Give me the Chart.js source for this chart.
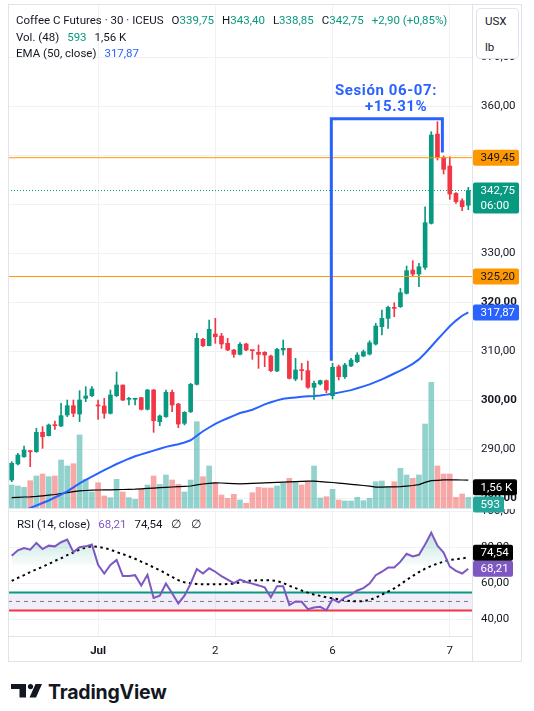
<!DOCTYPE html>
<html lang="es">
<head>
<meta charset="utf-8">
<title>Coffee C Futures · 30 · ICEUS</title>
<script src="https://cdn.jsdelivr.net/npm/chart.js@4.4.1/dist/chart.umd.min.js"></script>
<style>
  html, body { margin: 0; padding: 0; background: #fff; }
  body { width: 534px; height: 711px; position: relative; overflow: hidden;
         font-family: Roboto, 'Liberation Sans', sans-serif; color: #131722; }
  canvas { position: absolute; left: 0; }
  #mainChart { top: 0; z-index: 2; }
  #rsiChart { top: 509px; z-index: 1; }
  .txt { position: absolute; white-space: nowrap; font-size: 11.5px; line-height: 14px; z-index: 5; }
  .g { margin-left: 8px; }
  .up { color: #089981; }
  .blue { color: #2962ff; }
  .purple { color: #7e57c2; }
  .note { position: absolute; white-space: nowrap; z-index: 5; color: #2962ff;
          font-weight: bold; font-size: 15px; line-height: 16px; letter-spacing: 0.6px; }
  #frame { position: absolute; left: 8px; top: 4px; width: 514px; height: 658px;
           box-sizing: border-box; border: 1px solid #e0e3eb; z-index: 6; pointer-events: none; }
  #axisFoot { position: absolute; left: 472px; top: 636px; width: 1px; height: 25px; background: #e0e3eb; z-index: 6; }
  #unit { position: absolute; left: 476px; top: 8px; width: 43px; height: 51px; box-sizing: border-box;
          border: 1px solid #e0e3eb; border-radius: 4px; background: #fff; z-index: 6; font-size: 11.5px; }
  #unit span { position: absolute; left: 8px; }
  #logo { position: absolute; left: 11px; top: 684px; }
  #logoText { position: absolute; left: 48px; top: 680px; font-family: Inter, Roboto, sans-serif;
              font-weight: 700; font-size: 19.5px; line-height: 24px; color: #131722; letter-spacing: -0.2px; }
</style>
</head>
<body>
<canvas id="mainChart" width="534" height="520"></canvas>
<canvas id="rsiChart" width="534" height="152"></canvas>

<div class="txt" style="left:16px;top:13px">Coffee C Futures · 30 · ICEUS<span class="g">O<span class="up">339,75</span></span><span class="g">H<span class="up">343,40</span></span><span class="g">L<span class="up">338,85</span></span><span class="g">C<span class="up">342,75</span></span><span class="g up">+2,90 (+0,85%)</span></div>
<div class="txt" style="left:16px;top:30px">Vol. (48)<span class="g up">593</span><span class="g">1,56 K</span></div>
<div class="txt" style="left:16px;top:46px">EMA (50, close)<span class="g blue">317,87</span></div>
<div class="txt" style="left:17px;top:517px">RSI (14, close)<span class="g purple">68,21</span><span class="g">74,54</span><span class="g">∅</span><span class="g" style="margin-left:10px">∅</span></div>

<div class="note" style="left:335px;top:82px">Sesión 06-07:</div>
<div class="note" style="left:365px;top:98px">+15.31%</div>

<div id="unit"><span style="top:5px">USX</span><span style="top:31px">lb</span></div>
<div id="frame"></div>
<div id="axisFoot"></div>

<svg id="logo" width="31" height="14" viewBox="0 0 31 14">
  <path d="M0 0 H15 V13.5 H8.5 V5 H0 Z" fill="#131722"/>
  <circle cx="19.5" cy="2.6" r="2.6" fill="#131722"/>
  <path d="M18.5 13.5 L24.5 0 H31 L25 13.5 Z" fill="#131722"/>
</svg>
<div id="logoText">TradingView</div>

<script>
// 30-minute bars, Coffee C Futures (ICEUS)
const opens = [283.67, 286.94, 288.44, 289.66, 289.46, 293.40, 292.72, 294.90, 294.69, 296.94,
  298.84, 297.14, 300.34, 300.89, 298.98, 298.78, 297.28, 300.89, 303.06, 300.14,
  300.14, 300.48, 298.10, 302.04, 295.58, 296.60, 301.57, 299.18, 295.24, 297.62,
  303.20, 312.38, 311.09, 313.47, 313.06, 311.57, 310.21, 309.32, 311.43, 310.21,
  309.73, 309.73, 308.98, 305.92, 310.21, 310.55, 304.29, 306.12, 305.99, 302.59,
  303.27, 303.95, 300.89, 306.80, 304.76, 306.94, 307.82, 308.98, 309.38, 311.42,
  314.96, 316.66, 318.90, 319.04, 321.76, 326.52, 325.71, 327.07, 336.05, 354.28,
  349.52, 347.75, 342.17, 340.68, 339.75];
const highs = [287.42, 289.12, 290.61, 289.66, 294.22, 294.56, 295.10, 295.71, 299.32, 300.00,
  300.00, 301.91, 302.72, 302.72, 300.00, 300.34, 302.04, 305.72, 303.06, 300.55,
  300.27, 300.55, 302.18, 302.18, 296.94, 302.04, 302.04, 299.32, 297.62, 303.40,
  313.61, 312.59, 316.33, 316.67, 313.61, 312.59, 310.34, 311.70, 311.57, 310.21,
  311.23, 309.87, 309.19, 310.55, 312.25, 310.55, 308.50, 307.48, 307.96, 303.88,
  304.08, 304.08, 307.48, 307.14, 307.48, 308.50, 309.66, 310.20, 312.10, 315.64,
  318.36, 319.18, 319.86, 322.78, 327.34, 328.43, 327.88, 339.45, 354.76, 356.80,
  349.79, 349.65, 342.31, 341.08, 343.40];
const lows = [283.33, 286.73, 288.30, 286.40, 289.32, 290.14, 292.65, 294.02, 294.56, 296.60,
  296.60, 295.58, 299.66, 300.68, 296.06, 296.26, 297.14, 300.68, 299.86, 298.98,
  298.98, 297.96, 297.96, 293.40, 294.76, 296.46, 297.62, 294.35, 294.90, 297.42,
  303.06, 310.89, 311.02, 311.57, 310.55, 310.07, 308.71, 309.19, 310.07, 308.30,
  306.46, 306.80, 305.78, 305.78, 309.19, 304.29, 303.95, 304.08, 302.38, 300.14,
  303.06, 301.50, 300.21, 304.08, 304.42, 306.80, 307.61, 308.84, 309.18, 311.22,
  313.26, 314.62, 317.00, 318.90, 321.63, 325.16, 323.12, 326.66, 335.91, 348.98,
  346.12, 340.95, 340.13, 338.64, 338.85];
const closes = [287.08, 288.78, 289.80, 289.46, 293.40, 292.52, 294.90, 294.76, 296.80, 298.84,
  297.28, 300.00, 300.82, 302.25, 298.78, 297.28, 301.02, 303.06, 300.00, 300.27,
  300.27, 298.10, 302.04, 295.78, 296.74, 301.57, 298.98, 295.10, 297.48, 303.20,
  312.59, 311.09, 314.42, 312.93, 311.43, 310.21, 309.32, 311.36, 310.21, 310.07,
  309.32, 309.19, 305.99, 310.34, 310.55, 304.42, 306.12, 305.99, 302.59, 303.40,
  303.95, 302.04, 306.67, 304.76, 307.14, 308.16, 309.18, 309.86, 311.69, 315.10,
  316.66, 318.90, 318.70, 321.90, 326.39, 325.71, 327.20, 336.19, 354.08, 349.52,
  347.07, 342.04, 340.47, 339.45, 342.75];
const volumes = [1288, 1232, 1159, 1529, 1792, 1904, 1753, 1792, 2688, 2352,
  2481, 4088, 1607, 896, 1417, 672, 577, 1607, 896, 577,
  487, 1047, 1288, 1792, 1327, 1848, 1568, 1327, 896, 1568,
  4833, 1753, 2352, 1417, 728, 543, 767, 448, 263, 857,
  1159, 1120, 1120, 1232, 1383, 1663, 1473, 1288, 1473, 2352,
  560, 633, 1047, 448, 392, 392, 599, 409, 543, 1473,
  1512, 1193, 1473, 2223, 1848, 1663, 1848, 4704, 7039, 2352,
  1904, 1904, 599, 784, 593];
const volumeMA = [582, 600, 616, 627, 650, 683, 717, 756, 806, 862,
  918, 958, 980, 997, 1008, 1014, 1019, 1030, 1036, 1042,
  1053, 1075, 1098, 1114, 1137, 1154, 1176, 1193, 1215, 1232,
  1299, 1344, 1378, 1411, 1400, 1383, 1366, 1355, 1366, 1383,
  1394, 1406, 1422, 1439, 1450, 1467, 1478, 1495, 1506, 1501,
  1478, 1450, 1428, 1394, 1361, 1327, 1294, 1260, 1221, 1165,
  1170, 1182, 1187, 1193, 1226, 1260, 1310, 1434, 1529, 1550,
  1575, 1580, 1575, 1568, 1560];
const ema50 = [276.5, 277.0, 277.5, 277.96, 278.47, 278.98, 279.49, 280.10, 280.71, 281.35,
  282.18, 283.00, 283.70, 284.37, 285.04, 285.67, 286.31, 286.94, 287.47, 288.02,
  288.51, 288.90, 289.29, 289.67, 290.04, 290.43, 290.73, 290.98, 291.33, 291.78,
  292.71, 293.63, 294.39, 295.14, 295.73, 296.27, 296.82, 297.35, 297.67, 298.02,
  298.55, 299.10, 299.55, 299.92, 300.24, 300.39, 300.53, 300.67, 300.75, 300.82,
  300.94, 301.10, 301.27, 301.51, 301.76, 302.02, 302.39, 302.78, 303.20, 303.71,
  304.22, 304.80, 305.41, 306.00, 306.67, 307.39, 308.29, 309.55, 310.92, 312.35,
  313.71, 315.04, 316.20, 317.20, 317.87];
const rsi = [75.4, 78.4, 79.7, 78.8, 82.5, 79.1, 81.0, 80.6, 82.9, 84.4,
  77.4, 80.1, 80.6, 81.6, 70.3, 65.5, 70.3, 73.1, 64.2, 64.2,
  64.6, 58.9, 64.8, 51.9, 53.2, 59.9, 54.6, 48.9, 53.2, 59.9,
  68.0, 65.5, 68.4, 66.5, 64.0, 62.1, 60.2, 62.1, 60.8, 59.9,
  58.9, 57.8, 52.3, 58.5, 58.5, 48.0, 50.0, 49.8, 45.7, 46.6,
  47.0, 45.1, 51.3, 49.5, 52.3, 53.8, 56.1, 57.4, 59.9, 64.6,
  66.5, 68.8, 68.9, 72.1, 76.5, 75.0, 75.9, 81.6, 88.2, 81.0,
  77.2, 69.3, 67.0, 65.5, 68.21];
const rsiMA = [61.4, 63.1, 64.6, 66.3, 67.8, 69.3, 70.8, 72.5, 74.0, 75.7,
  77.2, 78.8, 79.9, 80.6, 80.3, 79.7, 78.8, 77.4, 76.3, 75.0,
  73.7, 72.1, 70.6, 68.9, 67.4, 65.5, 63.6, 61.8, 60.6, 60.1,
  59.7, 59.5, 59.5, 59.5, 59.5, 59.7, 59.9, 60.6, 61.4, 61.6,
  61.8, 61.8, 61.8, 61.4, 60.2, 58.7, 57.4, 56.1, 54.9, 53.8,
  53.1, 52.3, 51.7, 51.2, 50.6, 50.2, 50.0, 50.2, 50.8, 52.1,
  53.8, 55.5, 57.2, 59.5, 61.9, 64.2, 66.3, 68.2, 69.7, 71.0,
  72.1, 73.1, 73.5, 73.8, 74.54];

const dayTicks = [14, 33, 52, 71];
const dayLabels = ['Jul', '2', '6', '7'];
const boldPriceTicks = [380, 340, 320, 300, 280];
const orangeLevels = [349.45, 325.20];
const lastPrice = 342.75;
const barCountdown = '06:00';
const rsiBands = [55, 50, 45];
const rsiObLevel = 70;
// "Sesión 06-07" date range drawing, in bar index / price
const rangeX = [51.8, 51.8, 69.8, 69.8];
const rangeY = [308.0, 357.4, 357.4, 350.5];

const xRange = [-0.6, 74.6];
const priceRange = [277.96, 380.82];
const priceStep = 10;
const volumeMax = 28224;
const rsiRange = [30.8, 100.8];
const rsiStep = 20;

const gridColor = '#eff1f5';
const borderColor = '#e0e3eb';
const upColor = '#089981';
const downColor = '#f23645';
const FONT = "Roboto, 'Liberation Sans', sans-serif";

Chart.defaults.font.family = FONT;
Chart.defaults.font.size = 11.5;
Chart.defaults.color = '#131722';

const idx = closes.map((_, i) => i);
const isUp = idx.map(i => closes[i] >= opens[i]);
const candleColors = isUp.map(u => u ? upColor : downColor);
const volumeColors = isUp.map(u => u ? 'rgba(38,166,154,0.5)' : 'rgba(239,83,80,0.5)');
const fmt = v => v.toFixed(2).replace('.', ',');
const fullWidth = v => xRange.map(x => ({ x: x, y: v }));

// round-number ticks inside the visible range (none squeezed against the top edge)
function stepTicks(step, topGap) {
  return s => {
    const t = [];
    for (let v = Math.ceil(s.min / step) * step; v <= s.max - topGap; v += step) t.push({ value: v });
    s.ticks = t;
  };
}

// fixed axis size, and no extra room for the end labels
function fixSize(w, h) {
  return s => {
    if (w !== null) s.width = w;
    if (h !== null) s.height = h;
    s.paddingTop = 0; s.paddingBottom = 0; s.paddingLeft = 0; s.paddingRight = 0;
  };
}

function xScale(showLabels) {
  return {
    type: 'linear', min: xRange[0], max: xRange[1], bounds: 'data', offset: false,
    afterBuildTicks: s => { s.ticks = dayTicks.map(v => ({ value: v })); },
    grid: { color: gridColor, drawTicks: false, offset: false },
    border: { display: true, color: borderColor },
    ticks: {
      display: showLabels, autoSkip: false, maxRotation: 0, padding: 8,
      callback: v => { const k = dayTicks.indexOf(v); return k >= 0 ? dayLabels[k] : ''; },
      font: c => ({ size: 11.5, weight: c.index === 0 ? 'bold' : 'normal' })
    },
    afterFit: fixSize(null, showLabels ? 25 : 0)
  };
}

function drawTag(ctx, left, y, tag) {
  const h = 16 + (tag.lines.length - 1) * 15;
  ctx.fillStyle = tag.bg;
  ctx.beginPath();
  ctx.roundRect(left, y - 8, tag.width, h, 2);
  ctx.fill();
  ctx.fillStyle = tag.fg;
  ctx.font = '11.5px ' + FONT;
  ctx.textBaseline = 'middle';
  ctx.textAlign = 'left';
  tag.lines.forEach((t, k) => ctx.fillText(t, left + 7.5, y + k * 15 + 0.5));
}

// keep tags from overlapping: the upper one moves up
function placeTags(list) {
  list.sort((a, b) => b.y - a.y);
  for (let k = 1; k < list.length; k++) {
    if (list[k - 1].y - list[k].y < 16) list[k].y = list[k - 1].y - 16;
  }
  return list;
}

const mainTags = {
  id: 'mainTags',
  afterDraw(chart) {
    const ctx = chart.ctx;
    const left = chart.chartArea.right + 1;
    const y = chart.scales.y, yv = chart.scales.yVol;
    ctx.save();
    const price = [
      { y: y.getPixelForValue(orangeLevels[0]), lines: [fmt(orangeLevels[0])], bg: '#ff9800', fg: '#131722', width: 46 },
      { y: y.getPixelForValue(lastPrice), lines: [fmt(lastPrice), barCountdown], bg: upColor, fg: '#fff', width: 46 },
      { y: y.getPixelForValue(orangeLevels[1]), lines: [fmt(orangeLevels[1])], bg: '#ff9800', fg: '#131722', width: 46 },
      { y: y.getPixelForValue(ema50[ema50.length - 1]), lines: [fmt(ema50[ema50.length - 1])], bg: '#2962ff', fg: '#fff', width: 46 }
    ];
    price.forEach(t => drawTag(ctx, left, t.y, t));
    const volShift = 7;
    const vol = [
      { y: yv.getPixelForValue(volumeMA[volumeMA.length - 1]) + volShift, lines: [(volumeMA[volumeMA.length - 1] / 1000).toFixed(2).replace('.', ',') + ' K'], bg: '#000', fg: '#fff', width: 44 },
      { y: yv.getPixelForValue(volumes[volumes.length - 1]) + volShift, lines: [String(volumes[volumes.length - 1])], bg: '#26a69a', fg: '#fff', width: 31 }
    ];
    vol.forEach(t => drawTag(ctx, left, t.y, t));
    ctx.restore();
  }
};

const rsiTags = {
  id: 'rsiTags',
  afterDraw(chart) {
    const ctx = chart.ctx;
    const left = chart.chartArea.right + 1;
    const s = chart.scales.y;
    ctx.save();
    placeTags([
      { y: s.getPixelForValue(rsiMA[rsiMA.length - 1]), lines: [fmt(rsiMA[rsiMA.length - 1])], bg: '#000', fg: '#fff', width: 40 },
      { y: s.getPixelForValue(rsi[rsi.length - 1]), lines: [fmt(rsi[rsi.length - 1])], bg: '#7e57c2', fg: '#fff', width: 40 }
    ]).forEach(t => drawTag(ctx, left, t.y, t));
    ctx.restore();
  }
};

const lineBase = { type: 'line', pointRadius: 0, pointHoverRadius: 0, tension: 0, fill: false };

new Chart(document.getElementById('mainChart'), {
  type: 'bar',
  data: {
    datasets: [
      { type: 'bar', yAxisID: 'yVol', order: 10, grouped: false, barThickness: 5,
        data: idx.map(i => ({ x: i, y: volumes[i] })), backgroundColor: volumeColors, borderWidth: 0 },
      { ...lineBase, yAxisID: 'yVol', order: 9, borderColor: '#000', borderWidth: 1.2,
        data: idx.map(i => ({ x: i, y: volumeMA[i] })) },
      { ...lineBase, yAxisID: 'y', order: 6, borderColor: '#2962ff', borderWidth: 2,
        data: idx.map(i => ({ x: i, y: ema50[i] })) },
      { type: 'bar', yAxisID: 'y', order: 4, grouped: false, barThickness: 1,
        data: idx.map(i => ({ x: i, y: [lows[i], highs[i]] })), backgroundColor: candleColors, borderWidth: 0 },
      { type: 'bar', yAxisID: 'y', order: 3, grouped: false, barThickness: 4, minBarLength: 1,
        data: idx.map(i => ({ x: i, y: [opens[i], closes[i]] })), backgroundColor: candleColors, borderWidth: 0 },
      { ...lineBase, yAxisID: 'y', order: 2, borderColor: '#ff9800', borderWidth: 1, data: fullWidth(orangeLevels[0]) },
      { ...lineBase, yAxisID: 'y', order: 2, borderColor: '#ff9800', borderWidth: 1, data: fullWidth(orangeLevels[1]) },
      { ...lineBase, yAxisID: 'y', order: 2, borderColor: upColor, borderWidth: 1, borderDash: [1, 2],
        data: fullWidth(lastPrice) },
      { ...lineBase, yAxisID: 'y', order: 1, borderColor: '#2962ff', borderWidth: 3, borderJoinStyle: 'miter',
        data: rangeX.map((x, k) => ({ x: x, y: rangeY[k] })) }
    ]
  },
  options: {
    responsive: false, animation: false, devicePixelRatio: 1,
    layout: { padding: { left: 8, top: 4, right: 0, bottom: 12 } },
    plugins: { legend: { display: false }, tooltip: { enabled: false } },
    events: [],
    scales: {
      x: xScale(false),
      y: {
        position: 'right', min: priceRange[0], max: priceRange[1], bounds: 'data',
        afterBuildTicks: stepTicks(priceStep, 5),
        grid: { color: gridColor, drawTicks: false },
        border: { display: true, color: borderColor },
        ticks: {
          padding: 9, color: '#131722',
          callback: v => fmt(v),
          font: c => ({ size: 11.5, weight: boldPriceTicks.includes(c.tick && c.tick.value) ? 'bold' : 'normal' })
        },
        afterFit: fixSize(62, null)
      },
      yVol: { display: false, min: 0, max: volumeMax, bounds: 'data' }
    }
  },
  plugins: [mainTags]
});

new Chart(document.getElementById('rsiChart'), {
  type: 'line',
  data: {
    datasets: [
      { ...lineBase, order: 5, borderColor: '#089981', borderWidth: 2, data: fullWidth(rsiBands[0]),
        backgroundColor: 'rgba(126,87,194,0.1)', fill: { target: { value: rsiBands[2] } } },
      { ...lineBase, order: 4, borderColor: '#787b86', borderWidth: 1, borderDash: [4, 4], data: fullWidth(rsiBands[1]) },
      { ...lineBase, order: 4, borderColor: '#f23645', borderWidth: 2, data: fullWidth(rsiBands[2]) },
      { ...lineBase, order: 2, borderColor: '#000', borderWidth: 2, borderDash: [2.5, 3.5],
        data: idx.map(i => ({ x: i, y: rsiMA[i] })) },
      { ...lineBase, order: 1, borderColor: '#7e57c2', borderWidth: 2,
        data: idx.map(i => ({ x: i, y: rsi[i] })),
        fill: { target: { value: rsiObLevel }, below: 'rgba(0,0,0,0)' },
        backgroundColor: c => {
          const chart = c.chart, s = chart.scales && chart.scales.y;
          if (!s || !chart.chartArea) return 'rgba(8,153,129,0.15)';
          const g = chart.ctx.createLinearGradient(0, s.getPixelForValue(92), 0, s.getPixelForValue(rsiObLevel));
          g.addColorStop(0, 'rgba(8,153,129,0.32)');
          g.addColorStop(1, 'rgba(8,153,129,0.02)');
          return g;
        } }
    ]
  },
  options: {
    responsive: false, animation: false, devicePixelRatio: 1,
    layout: { padding: { left: 8, top: 1, right: 0, bottom: 0 } },
    plugins: { legend: { display: false }, tooltip: { enabled: false } },
    events: [],
    scales: {
      x: xScale(true),
      y: {
        position: 'right', min: rsiRange[0], max: rsiRange[1], bounds: 'data',
        afterBuildTicks: stepTicks(rsiStep, 0),
        grid: { color: gridColor, drawTicks: false },
        border: { display: true, color: borderColor },
        ticks: { padding: 9, color: '#131722', callback: v => fmt(v) },
        afterFit: fixSize(62, null)
      }
    }
  },
  plugins: [rsiTags]
});
</script>
</body>
</html>
